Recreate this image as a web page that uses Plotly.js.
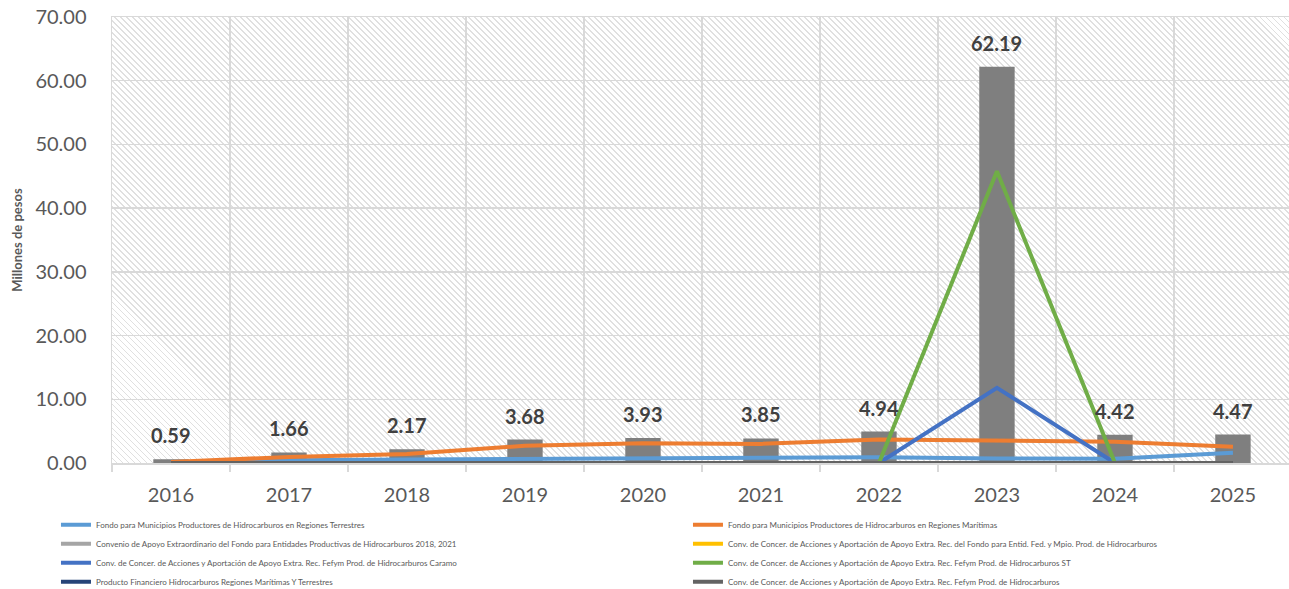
<!DOCTYPE html>
<html>
<head>
<meta charset="utf-8">
<script src="https://cdn.plot.ly/plotly-3.0.1.min.js"></script>
<style>
  html, body { margin: 0; padding: 0; background: #ffffff; }
  #wrap { position: relative; width: 1289px; height: 589px; overflow: hidden; background: #ffffff; }
  #hatch { position: absolute; left: 112px; top: 17px; width: 1177px; height: 446px;
    background: repeating-linear-gradient(45deg, #ffffff 0px, #ffffff 2.9px, #e0e0e0 2.9px, #e0e0e0 4.24px); }
  #chart { position: absolute; left: 0; top: 0; width: 1289px; height: 589px; }
</style>
</head>
<body>
<div id="wrap">
  <div id="hatch"></div>
  <div id="chart"></div>
</div>
<script>
const years = ['2016','2017','2018','2019','2020','2021','2022','2023','2024','2025'];
const totals = [0.59, 1.66, 2.17, 3.68, 3.93, 3.85, 4.94, 62.19, 4.42, 4.47];

const terrestres = [0.05, 0.45, 0.55, 0.6, 0.65, 0.7, 0.9, 0.7, 0.65, 1.6];
const maritimas = [0.15, 0.95, 1.4, 2.7, 3.1, 3.0, 3.7, 3.45, 3.35, 2.55];
const convenio20182021 = [0, 0, 0, 0, 0, 0, 0, 0, 0, 0];
const convFondoEntid = [0, 0, 0, 0, 0, 0, 0, 0, 0, 0];
const convCaramo = [0, 0, 0, 0, 0, 0, 0, 11.8, 0, 0];
const convST = [0, 0, 0, 0, 0, 0, 0, 45.8, 0, 0];
const productoFinanciero = [0, 0, 0, 0, 0, 0, 0, 0, 0, 0];
const convFefym = [0, 0, 0, 0, 0, 0, 0, 0, 0, 0];

const seriesNames = [
  'Fondo para Municipios Productores de Hidrocarburos en Regiones Terrestres',
  'Fondo para Municipios Productores de Hidrocarburos en Regiones Marítimas',
  'Convenio de Apoyo Extraordinario del Fondo para Entidades Productivas de Hidrocarburos 2018, 2021',
  'Conv. de Concer. de Acciones y Aportación de Apoyo Extra. Rec. del Fondo para Entid. Fed. y Mpio. Prod. de Hidrocarburos',
  'Conv. de Concer. de Acciones y Aportación de Apoyo Extra. Rec. Fefym Prod. de Hidrocarburos Caramo',
  'Conv. de Concer. de Acciones y Aportación de Apoyo Extra. Rec. Fefym Prod. de Hidrocarburos ST',
  'Producto Financiero Hidrocarburos Regiones Marítimas Y Terrestres',
  'Conv. de Concer. de Acciones y Aportación de Apoyo Extra. Rec. Fefym Prod. de Hidrocarburos'
];
const seriesValues = [terrestres, maritimas, convenio20182021, convFondoEntid, convCaramo, convST, productoFinanciero, convFefym];
const seriesColors = ['#5B9BD5', '#ED7D31', '#A5A5A5', '#FFC000', '#4472C4', '#70AD47', '#264478', '#636363'];

const FONT = 'Lato, "Open Sans", sans-serif';

const traces = [{
  type: 'bar',
  x: years,
  y: totals,
  width: 0.3,
  marker: { color: '#7F7F7F' },
  showlegend: false,
  hoverinfo: 'x+y'
}];
seriesValues.forEach((vals, i) => {
  traces.push({
    type: 'scatter',
    mode: 'lines',
    name: seriesNames[i],
    x: years,
    y: vals,
    line: { color: seriesColors[i], width: 4 }
  });
});

const annotations = years.map((yr, i) => ({
  x: i, y: totals[i], xref: 'x', yref: 'y',
  text: '<b>' + totals[i].toFixed(2) + '</b>',
  showarrow: false,
  xanchor: 'center',
  yanchor: 'middle',
  yshift: 24,
  font: { family: FONT, size: 20, color: '#404040' }
}));

const layout = {
  width: 1289,
  height: 589,
  margin: { l: 112, r: 0, t: 17, b: 126, autoexpand: false },
  paper_bgcolor: 'rgba(0,0,0,0)',
  plot_bgcolor: 'rgba(0,0,0,0)',
  font: { family: FONT, color: '#595959' },
  bargap: 0.7,
  xaxis: {
    type: 'category',
    range: [-0.5, 9.475],
    tickson: 'boundaries',
    ticks: 'outside',
    ticklen: 7,
    tickwidth: 1.5,
    tickcolor: '#D9D9D9',
    showgrid: true,
    gridcolor: '#D9D9D9',
    gridwidth: 1.5,
    showline: true,
    mirror: true,
    linecolor: '#D9D9D9',
    linewidth: 1.5,
    tickfont: { family: FONT, size: 20, color: '#595959' },
    ticklabelstandoff: 13,
    fixedrange: true
  },
  yaxis: {
    range: [0, 70],
    tickvals: [0, 10, 20, 30, 40, 50, 60, 70],
    tickformat: '.2f',
    ticks: '',
    showgrid: true,
    gridcolor: '#D9D9D9',
    gridwidth: 1.5,
    zeroline: false,
    showline: true,
    linecolor: '#D9D9D9',
    linewidth: 1.5,
    tickfont: { family: FONT, size: 20, color: '#595959' },
    ticklabelstandoff: 20,
    title: { text: 'Millones de pesos', font: { family: FONT, size: 13, color: '#595959', weight: 'bold' }, standoff: 10 },
    fixedrange: true
  },
  showlegend: true,
  legend: {
    orientation: 'h',
    xref: 'paper', yref: 'paper',
    x: -0.0476, xanchor: 'left',
    y: -0.106, yanchor: 'top',
    entrywidth: 587,
    entrywidthmode: 'pixels',
    traceorder: 'normal',
    font: { family: FONT, size: 8, color: '#595959' },
    bgcolor: 'rgba(0,0,0,0)'
  },
  annotations: annotations
};

Plotly.newPlot('chart', traces, layout, { displayModeBar: false, staticPlot: true });
</script>
</body>
</html>
